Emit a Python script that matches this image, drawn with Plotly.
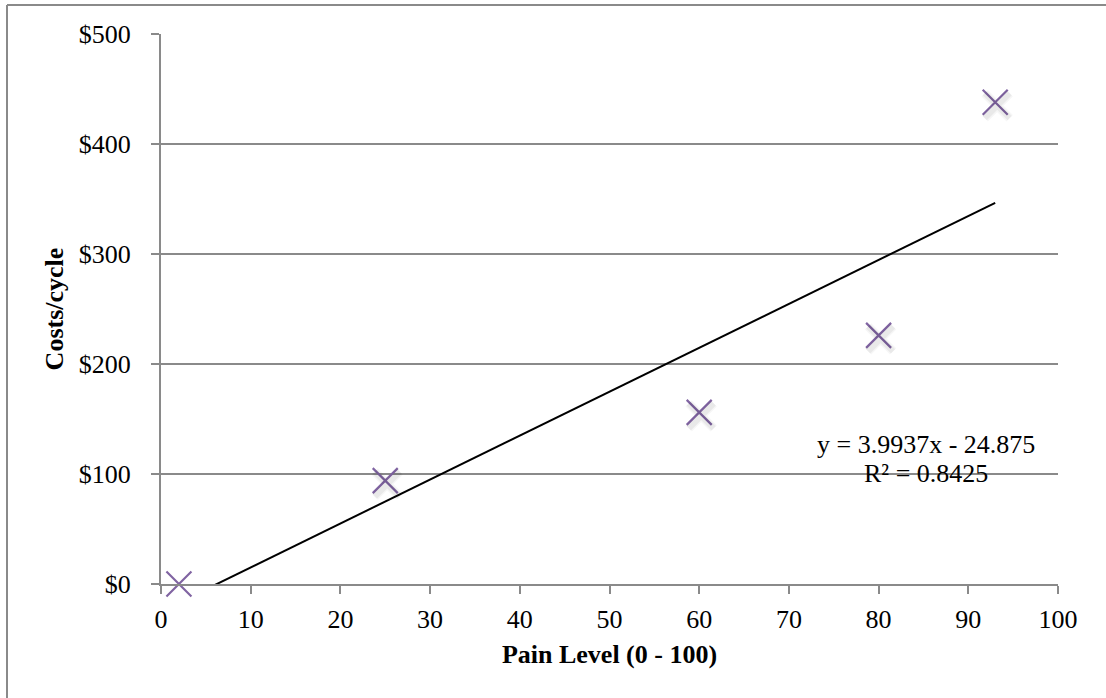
import plotly.graph_objects as go

# Pain level vs cost per cycle
pain_level = [2, 25, 60, 80, 93]
cost_per_cycle = [0, 94, 156, 226, 438]

# Linear trendline coefficients (as reported in the equation label)
slope = 3.9937
intercept = -24.875
r_squared = 0.8425

x_ticks = list(range(0, 101, 10))
y_ticks = list(range(0, 501, 100))
y_tick_labels = [f"${v}" for v in y_ticks]

W, H = 1106, 698
M = dict(l=161, r=48, t=34, b=114)

FONT = "Liberation Serif, Times New Roman, serif"
GRID = "#8a8a8a"
PURPLE = "#8064A2"

X_RANGE = [0, 100]
Y_RANGE = [0, 500]

plot_w = W - M["l"] - M["r"]
plot_h = H - M["t"] - M["b"]

trend_x = [min(pain_level), max(pain_level)]
trend_y = [slope * x + intercept for x in trend_x]

# Soft drop shadow for the markers: a hidden axis pair whose ranges are
# nudged a few pixels so the same points land slightly down and right.
sh_dx, sh_dy = 2.0, 3.5
px_x = (X_RANGE[1] - X_RANGE[0]) / plot_w
px_y = (Y_RANGE[1] - Y_RANGE[0]) / plot_h

fig = go.Figure()

for width, alpha in [(9, 0.035), (6, 0.05)]:
    fig.add_trace(go.Scatter(
        x=pain_level, y=cost_per_cycle, mode="markers",
        xaxis="x2", yaxis="y2",
        marker=dict(symbol="x-thin", size=25,
                    line=dict(color=f"rgba(0,0,0,{alpha})", width=width)),
        cliponaxis=False, showlegend=False, hoverinfo="skip",
    ))

fig.add_trace(go.Scatter(
    x=trend_x, y=trend_y, mode="lines",
    line=dict(color="black", width=2),
    showlegend=False, hoverinfo="skip",
))

fig.add_trace(go.Scatter(
    x=pain_level, y=cost_per_cycle, mode="markers",
    marker=dict(symbol="x-thin", size=25,
                line=dict(color=PURPLE, width=2.2)),
    cliponaxis=False, showlegend=False,
))

eq_text = f"y = {slope}x - {abs(intercept)}"
r2_text = f"R² = {r_squared}"
fig.add_annotation(x=85.3, y=113.6, xref="x", yref="y", text=eq_text,
                   showarrow=False, yshift=15,
                   font=dict(family=FONT, size=26, color="black"))
fig.add_annotation(x=85.3, y=113.6, xref="x", yref="y", text=r2_text,
                   showarrow=False, yshift=-14,
                   font=dict(family=FONT, size=26, color="black"))

# Outer frame (left and top edges of the chart area)
fx = (7 - M["l"]) / plot_w
fy = 1 + (M["t"] - 5) / plot_h
fig.add_shape(type="line", xref="paper", yref="paper",
              x0=fx, x1=fx, y0=fy, y1=-(M["b"] + 5) / plot_h,
              line=dict(color=GRID, width=2))
fig.add_shape(type="line", xref="paper", yref="paper",
              x0=fx, x1=(W - M["l"] + 5) / plot_w, y0=fy, y1=fy,
              line=dict(color=GRID, width=2))

fig.update_layout(
    width=W, height=H,
    margin=M,
    paper_bgcolor="white", plot_bgcolor="white",
    font=dict(family=FONT, size=26, color="black"),
    xaxis=dict(
        range=X_RANGE, tickvals=x_ticks, ticktext=[str(v) for v in x_ticks],
        showgrid=False, zeroline=False,
        showline=True, linecolor=GRID, linewidth=2,
        ticks="outside", ticklen=8, tickwidth=2, tickcolor=GRID,
        tickfont=dict(family=FONT, size=26), ticklabelstandoff=3,
        title=dict(text="<b>Pain Level (0 - 100)</b>",
                   font=dict(family=FONT, size=26), standoff=12),
    ),
    yaxis=dict(
        range=Y_RANGE, tickvals=y_ticks, ticktext=y_tick_labels,
        showgrid=True, gridcolor=GRID, gridwidth=2, zeroline=False,
        showline=True, linecolor=GRID, linewidth=2,
        ticks="outside", ticklen=8, tickwidth=2, tickcolor=GRID,
        tickfont=dict(family=FONT, size=26), ticklabelstandoff=15,
        title=dict(text="<b>Costs/cycle</b>",
                   font=dict(family=FONT, size=26), standoff=8),
    ),
    xaxis2=dict(
        overlaying="x", range=[X_RANGE[0] - sh_dx * px_x, X_RANGE[1] - sh_dx * px_x],
        visible=False, showgrid=False, zeroline=False,
    ),
    yaxis2=dict(
        overlaying="y", range=[Y_RANGE[0] + sh_dy * px_y, Y_RANGE[1] + sh_dy * px_y],
        visible=False, showgrid=False, zeroline=False,
    ),
)

fig.write_html("out.html")
